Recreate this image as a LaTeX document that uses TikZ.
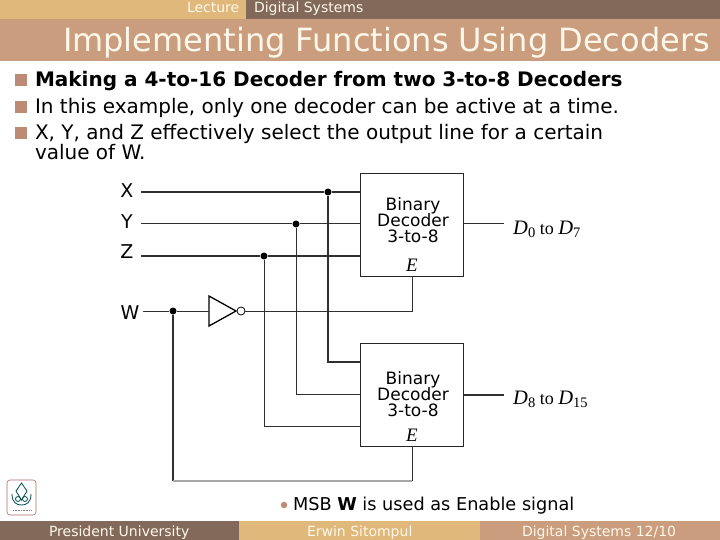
\documentclass[tikz,border=0pt]{standalone}
\usepackage{fontspec}
\setmainfont{DejaVu Sans}
\newfontfamily\serifm{Liberation Serif}
\definecolor{tan}{HTML}{E0B87C}
\definecolor{umber}{HTML}{83695A}
\definecolor{terra}{HTML}{C99D7D}
\definecolor{bul}{HTML}{BD8A73}
\definecolor{cream}{HTML}{FFF8EA}
\definecolor{wire}{HTML}{303030}
\newcommand{\fsz}[1]{\fontsize{#1}{#1}\selectfont}
\newcommand{\Dsub}[1]{{\serifm\fsz{20.500}\textit{D}\raisebox{-3.500pt}{\fsz{14.500}#1}}}
\tikzset{
  x=1pt,y=-1pt,
  txt/.style={anchor=base west,inner sep=0pt,outer sep=0pt,text=black},
  small/.style={txt,text=cream,font=\fsz{14}},
  bodytxt/.style={txt,font=\fsz{20}},
  lab/.style={anchor=center,inner sep=0pt,font=\fsz{19}},
  sq/.style={fill=bul,draw=none,minimum size=12pt,inner sep=0pt,anchor=center},
  wirel/.style={draw=wire,line width=1pt},
  dot/.style={circle,fill=black,inner sep=0pt,minimum size=7pt},
  deco/.style={draw=black!85,line width=1.4pt,minimum width=103pt,minimum height=103pt,inner sep=0pt,anchor=north west},
  dectxt/.style={align=center,inner sep=0pt,font=\fsz{17}},
  inv/.style={draw=black,line width=1.3pt,line join=miter},
}
\begin{document}
\begin{tikzpicture}
\useasboundingbox (0,0) rectangle (720,540);
\fill[white] (0,0) rectangle (720,540);
% header
\fill[tan] (0,0) rectangle (246,19);
\fill[umber] (246,0) rectangle (720,19);
\fill[terra] (0,19) rectangle (720,61);
\node[small] (lec) at (187,13) {Lecture};
\node[small] (ds) at (254,13) {Digital Systems};
\node[txt,text=cream,font=\fsz{32}] (title) at (63,52) {Implementing Functions Using Decoders};
% bullets
\node[sq] (b1) at (21,80) {};
\node[sq] (b2) at (21,107.500) {};
\node[sq] (b3) at (21,133) {};
\node[bodytxt,font=\fsz{20}\bfseries] (t1) at (35,87) {Making a 4-to-16 Decoder from two 3-to-8 Decoders};
\node[bodytxt] (t2) at (35,114) {In this example, only one decoder can be active at a time.};
\node[bodytxt] (t3) at (35,140) {X, Y, and Z effectively select the output line for a certain};
\node[bodytxt] (t4) at (35,159.500) {value of W.};
% labels
\node[lab] (X) at (127,191) {X};
\node[lab] (Y) at (127,222) {Y};
\node[lab] (Z) at (127,252) {Z};
\node[lab] (W) at (130,313) {W};
% decoders
\node[deco] (d1) at (360,173) {};
\node[deco] (d2) at (360,343) {};
\node[dectxt] (d1t) at (413,220) {Binary\\[-1pt]Decoder\\[-1pt]3-to-8};
\node[dectxt] (d2t) at (413,394) {Binary\\[-1pt]Decoder\\[-1pt]3-to-8};
\node[inner sep=0pt,font=\serifm\fsz{19}\itshape] (e1) at (412,265) {E};
\node[inner sep=0pt,font=\serifm\fsz{19}\itshape] (e2) at (412,435) {E};
\node[anchor=base west,inner sep=0pt] (o1) at (513,234) {\Dsub{0}{\serifm\fsz{18} to }\Dsub{7}};
\node[anchor=base west,inner sep=0pt] (o2) at (513,404) {\Dsub{8}{\serifm\fsz{18} to }\Dsub{15}};
% junctions and wire points
\node[dot] (jx) at (328,192) {};
\node[dot] (jy) at (296,224) {};
\node[dot] (jz) at (264,256) {};
\node[dot] (jw) at (173,311) {};
\coordinate (sx) at (141,192);
\coordinate (sy) at (141,224);
\coordinate (sz) at (141,256);
\coordinate (sw) at (143,311);
\coordinate (ix) at (360,192);
\coordinate (iy) at (360,224);
\coordinate (iz) at (360,256);
\coordinate (i2x) at (360,362);
\coordinate (i2y) at (360,394);
\coordinate (i2z) at (360,426);
\coordinate (en1) at (412,276);
\coordinate (en2) at (412,446);
\coordinate (low) at (173,481);
\coordinate (lowr) at (412,481);
\coordinate (wr) at (412,311);
\coordinate (out1) at (504,224);
\coordinate (out2) at (504,395);
\coordinate (d1o) at (463,224);
\coordinate (d2o) at (463,395);
% inverter
\coordinate (ta) at (209,296);
\coordinate (tb) at (209,326);
\coordinate (tt) at (236,311);
\node[circle,draw=black,line width=0.8pt,minimum size=8pt,inner sep=0pt,fill=white] (bub) at (241,311) {};
\draw[inv] (ta) -- (tt) -- (tb) -- cycle;
% wires
\draw[wirel,line width=1.2pt] (sx) -- (jx) -- (ix);
\draw[wirel] (sy) -- (jy) -- (iy);
\draw[wirel,line width=1.2pt] (sz) -- (jz) -- (iz);
\draw[wirel] (sw) -- (jw) -- (ta |- jw);
\draw[wirel] (bub) -- (wr) -- (en1);
\draw[wirel,line width=1.1pt] (jx) |- (i2x);
\draw[wirel] (jy) |- (i2y);
\draw[wirel] (jz) |- (i2z);
\draw[wirel,line width=1.1pt] (jw) -- (low);
\draw[draw=gray!70,line width=1.1pt] (low) -- (lowr);
\draw[wirel] (lowr) -- (en2);
\draw[wirel] (d1o) -- (out1);
\draw[wirel,line width=1.1pt] (d2o) -- (out2);
% logo
\draw[draw=red!50!black!60,line width=0.6pt,rounded corners=3pt] (7,480) rectangle (36,515);
\draw[draw=teal!60!black,line width=0.8pt] (21.500,483) -- (27,491) -- (21.500,500) -- (16,491) -- cycle;
\draw[draw=teal!60!black,line width=0.8pt] (12,494) .. controls (12,503) and (17,505) .. (21.500,505) .. controls (26,505) and (31,503) .. (31,494);
\draw[draw=teal!60!black,line width=0.8pt] (18,499) circle (2.5) (25,499) circle (2.5);
\draw[draw=gray,line width=0.8pt,dash pattern=on 1pt off 0.6pt] (13,510) -- (31,510);
% note
\node[circle,fill=bul,minimum size=6.500pt,inner sep=0pt] (nb) at (284,505) {};
\node[txt,font=\fsz{17.700}] (note) at (293,510) {MSB \textbf{W} is used as Enable signal};
% footer
\fill[umber] (0,521) rectangle (239,540);
\fill[tan] (239,521) rectangle (480,540);
\fill[terra] (480,521) rectangle (720,540);
\node[small] (f1) at (49,536) {President University};
\node[small] (f2) at (307,536) {Erwin Sitompul};
\node[small] (f3) at (522,536) {Digital Systems 12/10};
\end{tikzpicture}
\end{document}
